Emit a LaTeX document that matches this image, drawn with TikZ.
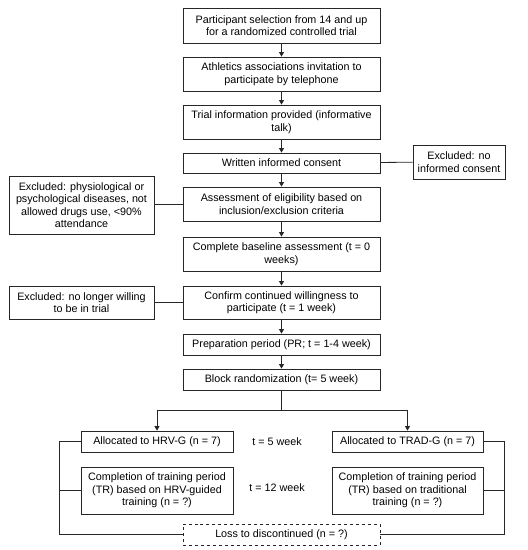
\documentclass[tikz,border=0pt]{standalone}
\usepackage{fontspec}
\setmainfont{Liberation Sans}
\usetikzlibrary{arrows.meta}
\begin{document}
\begin{tikzpicture}[x=1bp,y=-1bp,
  every node/.style={font=\fontsize{10.8}{12.6}\selectfont, inner sep=0pt, align=center},
  box/.style={draw=black!85, line width=0.8pt, minimum width=#1},
  box/.default=197bp,
  conn/.style={draw=black!85, line width=0.8pt},
  arr/.style={conn, -{Triangle[length=4.5bp,width=5bp]}}]
\useasboundingbox (0,0) rectangle (528,550);
\node[box, minimum height=35bp] (b1) at (281.5,25.5) {Participant selection from 14 and up\\for a randomized controlled trial};
\node[box, minimum height=34bp] (b2) at (281.5,74) {Athletics associations invitation to\\participate by telephone};
\node[box, minimum height=34bp] (b3) at (281.5,122) {Trial information provided (informative\\talk)};
\node[box, minimum height=20bp] (b4) at (281.5,163) {Written informed consent};
\node[box, minimum height=34bp] (b5) at (281.5,204) {Assessment of eligibility based on\\inclusion/exclusion criteria};
\node[box, minimum height=34bp] (b6) at (281.5,254) {Complete baseline assessment (t = 0\\weeks)};
\node[box, minimum height=33bp] (b7) at (281.5,302.5) {Confirm continued willingness to\\participate (t = 1 week)};
\node[box, minimum height=21bp] (b8) at (281.5,344.5) {Preparation period (PR; t = 1-4 week)};
\node[box, minimum height=21bp] (b9) at (281.5,379.5) {Block randomization (t= 5 week)};
\node[box=92bp, minimum height=34bp] (exR) at (459,162) {Excluded: no\\informed consent};
\node[box=145bp, minimum height=58bp] (exL1) at (81.5,205) {Excluded: physiological or\\psychological diseases, not\\allowed drugs use, <90\%\\attendance};
\node[box=145bp, minimum height=33bp] (exL2) at (81.5,302.5) {Excluded: no longer willing\\to be in trial};
\node[box=152bp, minimum height=21bp] (hrv) at (157,441.5) {Allocated to HRV-G (n = 7)};
\node[box=151bp, minimum height=21bp] (trad) at (407.5,441.5) {Allocated to TRAD-G (n = 7)};
\node[box=152bp, minimum height=47bp] (chrv) at (157,490.5) {Completion of training period\\(TR) based on HRV-guided\\training (n = ?)};
\node[box=151bp, minimum height=47bp] (ctrad) at (407.5,490.5) {Completion of training period\\(TR) based on traditional\\training (n = ?)};
\node[box, dashed, minimum height=21bp] (loss) at (281.5,534.5) {Loss to discontinued (n = ?)};
\node (t5) at (277,442) {t = 5 week};
\node (t12) at (277,488) {t = 12 week};
\coordinate (split) at (281.5,410);
\draw[arr] (b1) -- (b2);
\draw[arr] (b2) -- (b3);
\draw[arr] (b3) -- (b4);
\draw[arr] (b4) -- (b5);
\draw[arr] (b5) -- (b6);
\draw[arr] (b6) -- (b7);
\draw[arr] (b7) -- (b8);
\draw[arr] (b8) -- (b9);
\draw[conn] (b4) -- (exR);
\draw[conn] (b5) -- (exL1.east |- b5);
\draw[conn] (b7) -- (exL2);
\draw[conn] (b9) -- (split);
\draw[arr] (split) -| (hrv);
\draw[arr] (split) -| (trad);
\draw[conn] (hrv.west) -- ++(-21,0) |- (loss.west);
\draw[conn] (chrv.west) -- ++(-21,0);
\draw[conn] (trad.east) -- ++(21,0) |- (loss.east);
\draw[conn] (ctrad.east) -- ++(21,0);
\end{tikzpicture}
\end{document}
